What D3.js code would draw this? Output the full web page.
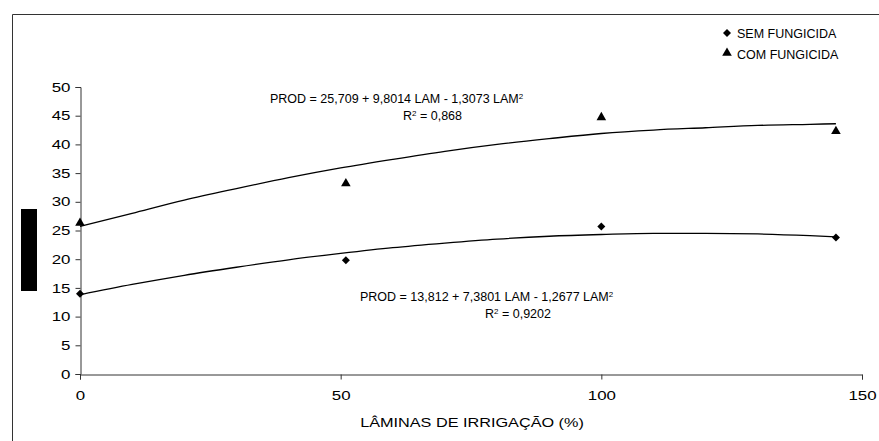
<!DOCTYPE html>
<html>
<head>
<meta charset="utf-8">
<script src="https://cdn.jsdelivr.net/npm/d3@7"></script>
<style>
  body { margin: 0; background: #fff; }
  text { font-family: "Liberation Sans", Arial, sans-serif; fill: #000; }
</style>
</head>
<body>
<div id="chart"></div>
<script>
"use strict"
var width = 879,
	height = 441;

// observed points
var lam = [0, 51, 100, 145];
var semFung = [14.0, 19.8, 25.7, 23.8];
var comFung = [26.3, 33.2, 44.7, 42.3];

// trend curves
var trendX = [0, 10, 20, 30, 40, 50, 60, 70, 80, 90, 100, 110, 120, 130, 140, 145];
var trendSem = [13.8, 15.6, 17.2, 18.6, 19.9, 21.0, 22.0, 22.8, 23.5, 24.0, 24.3, 24.5, 24.5, 24.4, 24.1, 23.9];
var trendCom = [25.7, 28.0, 30.3, 32.3, 34.2, 35.9, 37.4, 38.8, 40.0, 41.0, 41.9, 42.5, 42.9, 43.3, 43.5, 43.6];

var xTicks = [0, 50, 100, 150];
var yTicks = [0, 5, 10, 15, 20, 25, 30, 35, 40, 45, 50];

var stretch = 1.3;

var svg = d3.select("#chart").append("svg")
	.attr("width", width)
	.attr("height", height);

// frame (only top and left edges are visible)
svg.append("path")
	.attr("d", "M12.5," + height + "V14.5H" + width)
	.style("fill", "none")
	.style("stroke", "#333")
	.style("stroke-width", 1);

var xscale = d3.scaleLinear().domain([0, 150]).range([80, 862]);
var yscale = d3.scaleLinear().domain([0, 50]).range([374, 87]);

// y axis
var yAxis = svg.append("g")
	.attr("transform", "translate(80.5,0)")
	.call(d3.axisLeft(yscale).tickValues(yTicks).tickSize(5).tickFormat(d3.format("d")));
yAxis.selectAll("text")
	.attr("x", -10 / stretch)
	.attr("transform", "scale(" + stretch + ",1)")
	.style("font-size", "13px");

// x axis
var xAxis = svg.append("g")
	.attr("transform", "translate(0,374.5)")
	.call(d3.axisBottom(xscale).tickValues(xTicks).tickSize(5).tickPadding(11).tickFormat(d3.format("d")));
xAxis.selectAll("text")
	.attr("transform", "scale(" + stretch + ",1)")
	.style("font-size", "13px");

svg.selectAll(".tick text").style("font-family", "'Liberation Sans', Arial, sans-serif").style("fill", "#000");
svg.selectAll(".domain, .tick line").style("stroke", "#333");

svg.append("text")
	.attr("transform", "translate(472,427) scale(" + stretch + ",1)")
	.attr("text-anchor", "middle")
	.style("font-size", "12.5px")
	.text("LÂMINAS DE IRRIGAÇÃO (%)");

// left black block
svg.append("rect")
	.attr("x", 21)
	.attr("y", 209)
	.attr("width", 16)
	.attr("height", 82)
	.style("fill", "#000");

// trend lines
var line = d3.line().curve(d3.curveMonotoneX);
[trendSem, trendCom].forEach(function (ys) {
	svg.append("path")
		.attr("d", line(trendX.map(function (x, i) { return [xscale(x), yscale(ys[i])]; })))
		.style("fill", "none")
		.style("stroke", "#000")
		.style("stroke-width", 1.3);
});

// markers
var diamond = d3.symbol().type(d3.symbolSquare).size(32);
var tri = d3.symbol().type(d3.symbolTriangle).size(40);

svg.selectAll(".sem").data(lam).enter().append("path")
	.attr("d", diamond)
	.attr("transform", function (d, i) { return "translate(" + xscale(d) + "," + yscale(semFung[i]) + ") rotate(45)"; })
	.style("fill", "#000");

svg.selectAll(".com").data(lam).enter().append("path")
	.attr("d", tri)
	.attr("transform", function (d, i) { return "translate(" + xscale(d) + "," + yscale(comFung[i]) + ")"; })
	.style("fill", "#000");

// legend
svg.append("path").attr("d", diamond).attr("transform", "translate(727,33) rotate(45)").style("fill", "#000");
svg.append("path").attr("d", tri).attr("transform", "translate(727,53)").style("fill", "#000");
svg.append("text").attr("x", 737).attr("y", 37.5).style("font-size", "12.5px").text("SEM FUNGICIDA");
svg.append("text").attr("x", 737).attr("y", 58.5).style("font-size", "12.5px").text("COM FUNGICIDA");

// equations
function eq(x, y, parts) {
	var t = svg.append("text").attr("x", x).attr("y", y).style("font-size", "12.5px");
	t.append("tspan").text(parts[0]);
	t.append("tspan").attr("dy", -4).style("font-size", "8px").text("2");
	if (parts[1]) t.append("tspan").attr("dy", 4).text(parts[1]);
	return t;
}
eq(270, 103, ["PROD =  25,709 + 9,8014 LAM - 1,3073 LAM"]);
eq(403, 120, ["R", " = 0,868"]);
eq(360, 301, ["PROD = 13,812 + 7,3801 LAM - 1,2677 LAM"]);
eq(485, 318, ["R", " = 0,9202"]);
</script>
</body>
</html>
